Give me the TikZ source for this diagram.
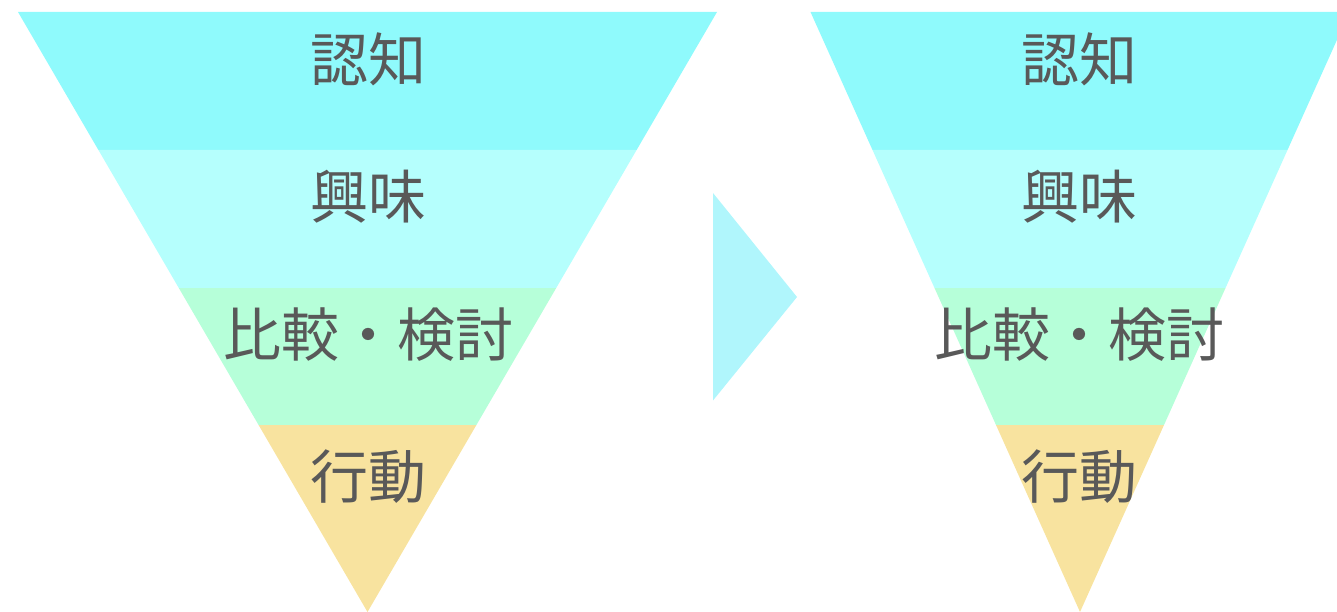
\documentclass[tikz,border=0pt]{standalone}
\usepackage{fontspec}
\newfontfamily\cjk{Noto Sans CJK JP}
\definecolor{bandA}{HTML}{8FFAFC}
\definecolor{bandB}{HTML}{B5FFFD}
\definecolor{bandC}{HTML}{B6FFD9}
\definecolor{bandD}{HTML}{F8E39F}
\definecolor{arrowC}{HTML}{B0F6FC}
\definecolor{txt}{HTML}{595959}
\tikzset{
  lbl/.style={font=\cjk\fontsize{58}{60}\selectfont, text=txt, inner sep=0pt},
}
\begin{document}
\begin{tikzpicture}[x=1pt,y=-1pt]
\useasboundingbox (0,0) rectangle (1337,612);
\clip (0,0) rectangle (1337,612);
% left funnel
\fill[bandA] (18,12) -- (717,12) -- (636.6,150) -- (98.4,150) -- cycle;
\fill[bandB] (98.4,150) -- (636.6,150) -- (556.2,288) -- (178.8,288) -- cycle;
\fill[bandC] (178.8,288) -- (556.2,288) -- (476.4,425) -- (258.6,425) -- cycle;
\fill[bandD] (258.6,425) -- (476.4,425) -- (367.5,612) -- cycle;
% right funnel
\fill[bandA] (810.5,12) -- (1349.5,12) -- (1287.5,150) -- (872.5,150) -- cycle;
\fill[bandB] (872.5,150) -- (1287.5,150) -- (1225.5,288) -- (934.5,288) -- cycle;
\fill[bandC] (934.5,288) -- (1225.5,288) -- (1164,425) -- (996,425) -- cycle;
\fill[bandD] (996,425) -- (1164,425) -- (1080,612) -- cycle;
% arrow triangle
\fill[arrowC] (713,193) -- (797,297) -- (713,400.5) -- cycle;
% labels
\node[lbl] (l1) at (368,59) {認知};
\node[lbl] (l2) at (368,196.5) {興味};
\node[lbl] (l3) at (368,334.5) {比較・検討};
\node[lbl] (l4) at (368,477) {行動};
\node[lbl] (r1) at (1079,59) {認知};
\node[lbl] (r2) at (1079,196.5) {興味};
\node[lbl] (r3) at (1079,334.5) {比較・検討};
\node[lbl] (r4) at (1079,477) {行動};
\end{tikzpicture}
\end{document}
